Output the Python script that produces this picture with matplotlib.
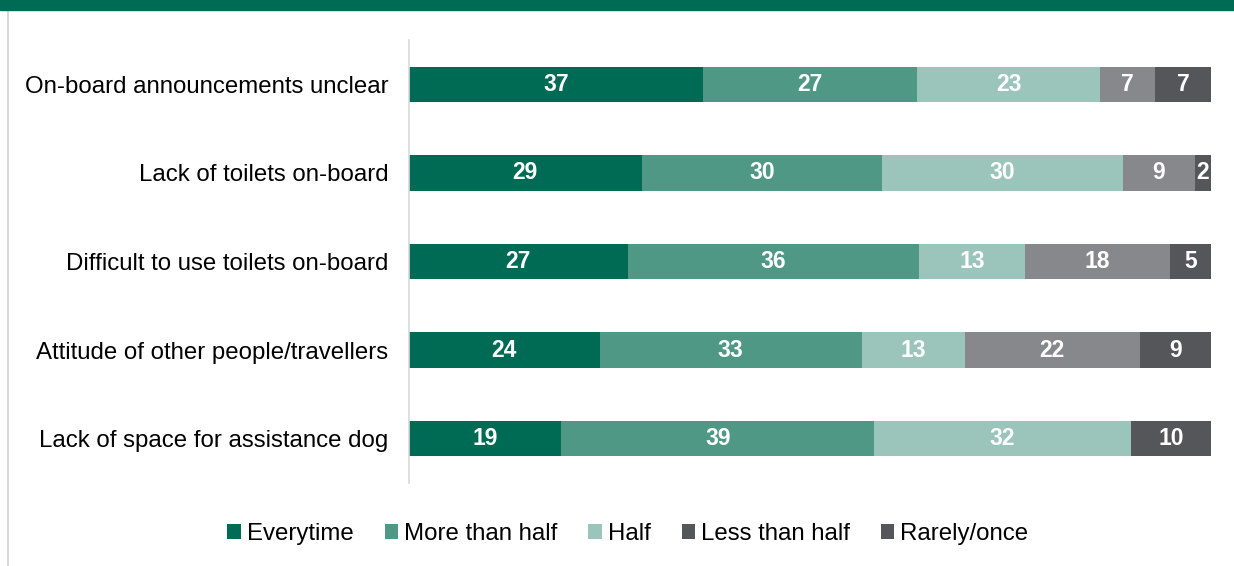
import numpy as np
import matplotlib.pyplot as plt
from matplotlib.patches import Patch, Rectangle
from matplotlib.lines import Line2D

plt.rcParams['font.family'] = ['Liberation Sans', 'DejaVu Sans']

categories = ['On-board announcements unclear', 'Lack of toilets on-board',
              'Difficult to use toilets on-board', 'Attitude of other people/travellers',
              'Lack of space for assistance dog']
series = ['Everytime', 'More than half', 'Half', 'Less than half', 'Rarely/once']
everytime = [37, 29, 27, 24, 19]
more_than_half = [27, 30, 36, 33, 39]
half = [23, 30, 13, 13, 32]
less_than_half = [7, 9, 18, 22, 0]
rarely = [7, 2, 5, 9, 10]

values = np.array([everytime, more_than_half, half, less_than_half, rarely], dtype=float)
bar_colors = ['#006b54', '#4f9886', '#9bc5ba', '#87888c', '#55565a']
legend_colors = ['#006b54', '#4f9886', '#9bc5ba', '#55565a', '#55565a']

# 100% stacked: scale each row to its total
shares = values / values.sum(axis=0) * 100

fig = plt.figure(figsize=(12.34, 5.66), dpi=100)
ax = fig.add_axes([409 / 1234, 83 / 566, 802 / 1234, 443 / 566])

y = np.arange(len(categories))
left = np.zeros(len(categories))
for vals, pct, col in zip(values, shares, bar_colors):
    ax.barh(y, pct, left=left, height=0.4, color=col, edgecolor='none')
    for yi, (l, v, p) in enumerate(zip(left, vals, pct)):
        if v > 0:
            ax.text(l + p / 2, yi, f'{int(v)}', ha='center', va='center',
                    color='white', fontsize=16.5, fontweight='bold')
    left += pct

ax.set_xlim(0, 100)
ax.set_ylim(4.5, -0.5)
ax.set_yticks(y)
ax.set_yticklabels(categories, fontsize=17.3)
ax.tick_params(axis='y', length=0, pad=15)
ax.set_xticks([])
for s in ['top', 'right', 'bottom']:
    ax.spines[s].set_visible(False)
ax.spines['left'].set_color('#d9d9d9')
ax.spines['left'].set_linewidth(1.2)

handles = [Patch(facecolor=c, edgecolor='none') for c in legend_colors]
fig.legend(handles, series, loc='center', bbox_to_anchor=(628 / 1234, 1 - 534 / 566),
           ncol=5, frameon=False, fontsize=17.3, handlelength=0.55, handleheight=0.55,
           handletextpad=0.25, columnspacing=1.3)

# top band and left border
fig.patches.append(Rectangle((0, 1 - 10 / 566), 1, 10 / 566, transform=fig.transFigure,
                             color='#006b54', zorder=5))
fig.lines.append(Line2D([7.5 / 1234, 7.5 / 1234], [0, 1 - 10 / 566], transform=fig.transFigure,
                        color='#d9d9d9', linewidth=1.5))

fig.savefig('out.png', dpi=100)
